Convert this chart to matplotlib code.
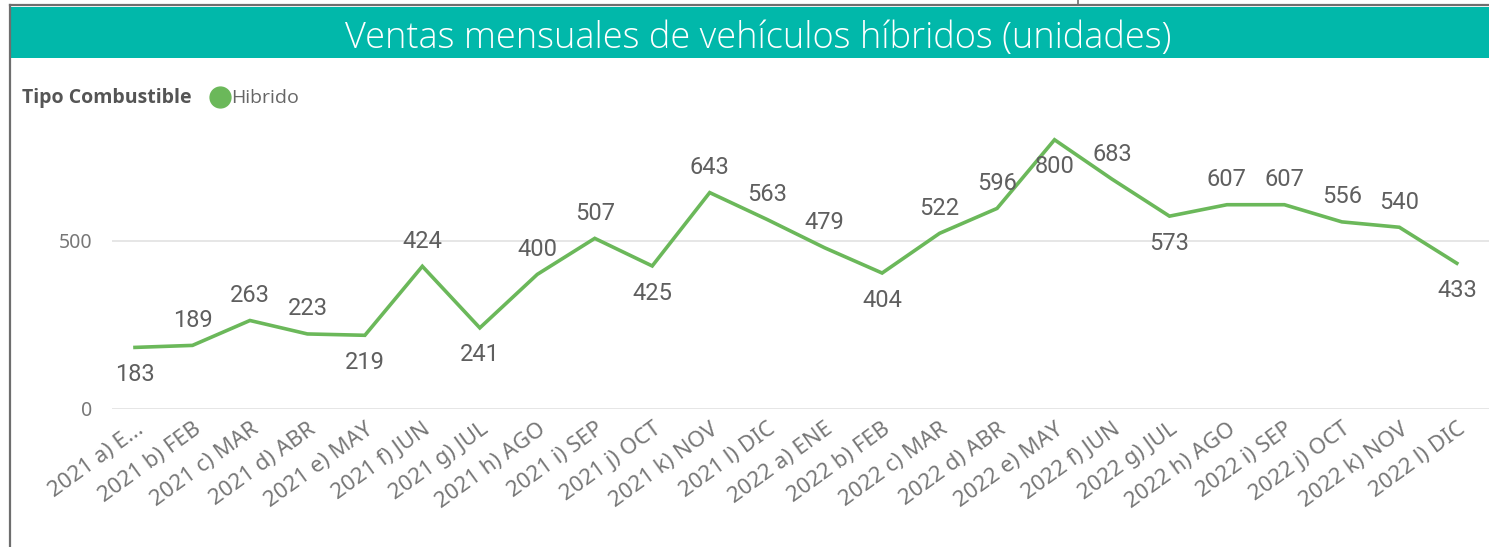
import matplotlib.pyplot as plt
from matplotlib.lines import Line2D
from matplotlib.patches import Rectangle

# datos
meses = ['2021 a) E...', '2021 b) FEB', '2021 c) MAR', '2021 d) ABR', '2021 e) MAY',
         '2021 f) JUN', '2021 g) JUL', '2021 h) AGO', '2021 i) SEP', '2021 j) OCT',
         '2021 k) NOV', '2021 l) DIC', '2022 a) ENE', '2022 b) FEB', '2022 c) MAR',
         '2022 d) ABR', '2022 e) MAY', '2022 f) JUN', '2022 g) JUL', '2022 h) AGO',
         '2022 i) SEP', '2022 j) OCT', '2022 k) NOV', '2022 l) DIC']
hibrido = [183, 189, 263, 223, 219, 424, 241, 400, 507, 425, 643, 563,
           479, 404, 522, 596, 800, 683, 573, 607, 607, 556, 540, 433]
# posicion de la etiqueta (1 arriba, -1 abajo)
pos_etiqueta = [-1, 1, 1, 1, -1, 1, -1, 1, 1, -1, 1, 1,
                1, -1, 1, 1, -1, 1, -1, 1, 1, 1, 1, -1]

W, H = 1489, 547
verde = '#6BB85A'
teal = '#01B8AA'
fuente = 'Noto Sans'


def fx(px):
    return px / W


def fy(py):
    return 1 - py / H


fig = plt.figure(figsize=(W / 100, H / 100), dpi=100)
fig.patch.set_facecolor('white')

# marco y barra del titulo
fig.add_artist(Line2D([fx(10), fx(10)], [fy(5), 0], color='#6E6E6E', lw=1.6))
fig.add_artist(Line2D([fx(10), 1], [fy(5), fy(5)], color='#6E6E6E', lw=1.6))
fig.add_artist(Line2D([fx(1078), fx(1078)], [1, fy(5)], color='#6E6E6E', lw=1.2))
fig.add_artist(Rectangle((fx(11), fy(58)), 1 - fx(11), fy(7) - fy(58),
                         transform=fig.transFigure, facecolor=teal, edgecolor='none'))
fig.text(fx(758), fy(48), 'Ventas mensuales de vehículos híbridos (unidades)',
         color='white', fontsize=26, family='Open Sans', fontweight='light',
         ha='center', va='baseline')

# leyenda
fig.text(fx(22), fy(103), 'Tipo Combustible', color='#555555', fontsize=14,
         family='Open Sans', fontweight='bold', ha='left', va='baseline')
fig.add_artist(Line2D([fx(220)], [fy(97)], marker='o', markersize=15,
                      color=verde, linestyle='none'))
fig.text(fx(231), fy(103), 'Hibrido', color='#666666', fontsize=14,
         family='Open Sans', ha='left', va='baseline')

ax = fig.add_axes([fx(112), fy(409), 1 - fx(112), fy(130) - fy(409)])
x = list(range(len(meses)))
ax.plot(x, hibrido, color=verde, linewidth=2.6, solid_joinstyle='miter', zorder=3)
ax.set_xlim(-0.4, 23.56)
ax.set_ylim(0, 829)

for i, v in enumerate(hibrido):
    dy = 18 if pos_etiqueta[i] > 0 else -19.5
    ax.annotate(str(v), (i, v), xytext=(0, dy), textcoords='offset points',
                ha='center', va='center', fontsize=17, family='Roboto',
                color='#5F5F5F', zorder=4)

ax.set_yticks([0, 500])
ax.set_yticklabels(['0', '500'], family=fuente, fontsize=14, color='#777777')
ax.set_xticks(x)
ax.set_xticklabels(meses, rotation=36, ha='right', va='top', rotation_mode='anchor',
                   family=fuente, fontsize=16, color='#777777')
ax.tick_params(axis='both', length=0)
ax.tick_params(axis='y', pad=14)
ax.tick_params(axis='x', pad=7)
ax.grid(axis='y', color='#E6E6E6', linewidth=1.4)
ax.set_axisbelow(True)
for s in ax.spines.values():
    s.set_visible(False)

fig.savefig('out.png', dpi=100)
